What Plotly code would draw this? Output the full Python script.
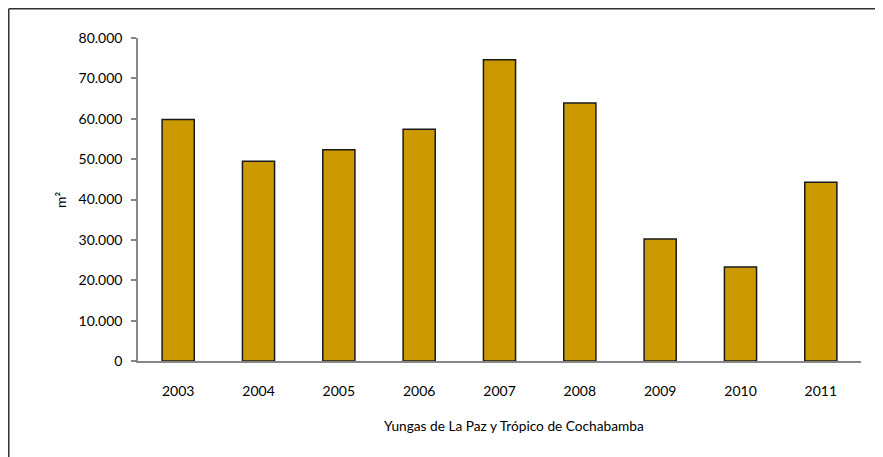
import plotly.graph_objects as go

years = ["2003", "2004", "2005", "2006", "2007", "2008", "2009", "2010", "2011"]
values = [59800, 49500, 52300, 57400, 74600, 63900, 30200, 23300, 44300]
y_ticks = [0, 10000, 20000, 30000, 40000, 50000, 60000, 70000, 80000]
x_title = "Yungas de La Paz y Trópico de Cochabamba"
y_title = "m²"

OFF = 8  # page body margin
W, H = 883 - OFF, 457 - OFF
L, R, T, B = 130, 22, 30, 96
pw = W - L - R
ph = H - T - B

def px_x(x):  # page pixel -> paper
    return (x - OFF - L) / pw

def px_y(y):
    return (H - B - (y - OFF)) / ph

fig = go.Figure(go.Bar(
    x=years, y=values,
    marker=dict(color="#CC9900", line=dict(color="#1a1a1a", width=1.5)),
))

fig.update_layout(
    width=W, height=H,
    margin=dict(l=L, r=R, t=T, b=B),
    plot_bgcolor="white", paper_bgcolor="white",
    separators=",.",
    bargap=0.6,
    showlegend=False,
    font=dict(family="Lato", color="#000000"),
)
fig.update_xaxes(
    showline=True, linecolor="#868686", linewidth=2,
    ticks="", showgrid=False,
    tickfont=dict(family="Lato", size=14, color="#000000"),
    ticklabelstandoff=16,
)
fig.update_yaxes(
    range=[0, 80000], tickvals=y_ticks, tickformat=",.0f",
    showline=True, linecolor="#868686", linewidth=1.5,
    ticks="outside", ticklen=5, tickcolor="#868686", tickwidth=1.5,
    showgrid=False, zeroline=False,
    tickfont=dict(family="Lato", size=14, color="#000000"),
    ticklabelstandoff=6,
)

fig.add_annotation(text=x_title, xref="paper", yref="paper",
                   x=px_x(514), y=px_y(425), showarrow=False,
                   font=dict(family="Lato", size=13.7, color="#000000"),
                   xanchor="center", yanchor="middle")
fig.add_annotation(text=y_title, xref="paper", yref="paper",
                   x=px_x(60), y=px_y(200), showarrow=False, textangle=-90,
                   font=dict(family="Lato", size=14, color="#000000"),
                   xanchor="center", yanchor="middle")

# outer chart border (left and top edges visible)
fig.add_shape(type="line", xref="paper", yref="paper",
              x0=px_x(OFF + 0.75), x1=px_x(OFF + 0.75), y0=px_y(OFF + 0.75), y1=px_y(470),
              line=dict(color="#333333", width=1.5))
fig.add_shape(type="line", xref="paper", yref="paper",
              x0=px_x(OFF + 0.75), x1=px_x(900), y0=px_y(OFF + 0.75), y1=px_y(OFF + 0.75),
              line=dict(color="#333333", width=1.5))

fig.write_html("out.html")
